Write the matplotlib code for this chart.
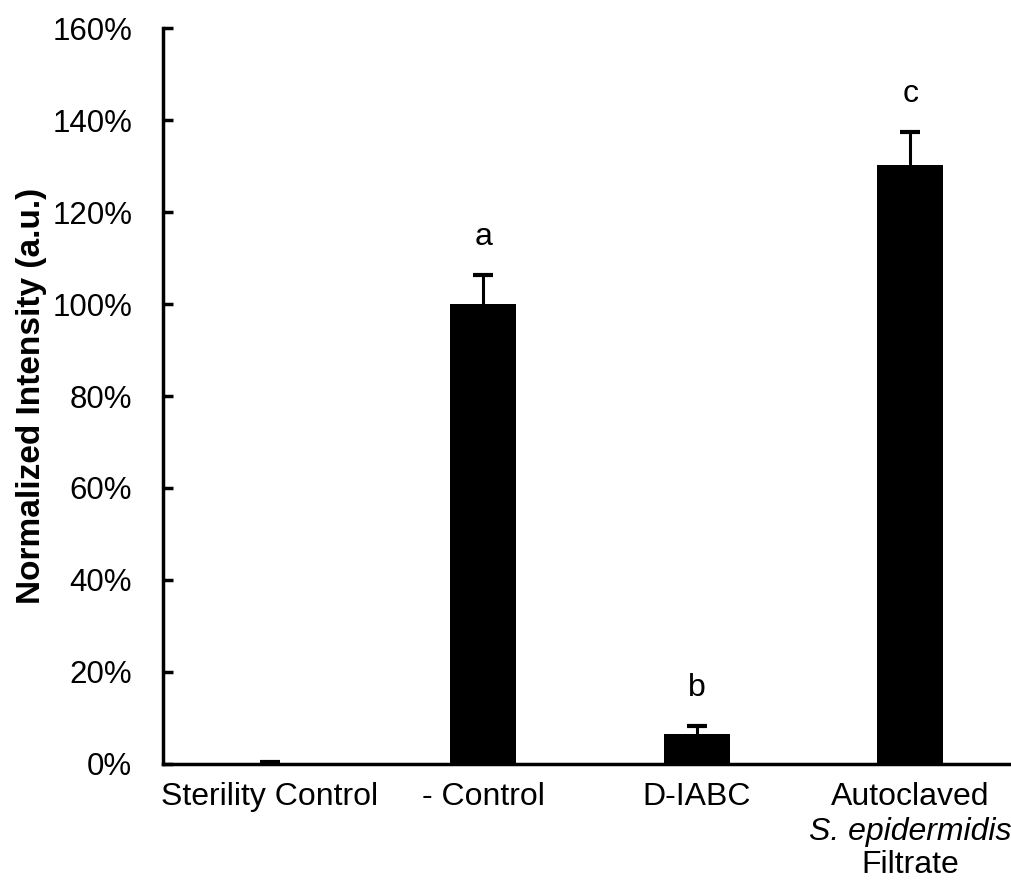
import matplotlib
matplotlib.use("Agg")
import matplotlib.pyplot as plt
from matplotlib.ticker import PercentFormatter

plt.rcParams['font.family'] = ['Liberation Sans', 'DejaVu Sans']

# Normalized intensity per treatment (%), upper error and significance letters
groups = ["Sterility Control", "- Control", "D-IABC", ""]
intensity = [0.0, 100.0, 6.5, 130.2]
error = [0.4, 6.3, 1.7, 7.2]
letters = ["", "a", "b", "c"]

fig = plt.figure(figsize=(10.11, 8.8), dpi=100)
ax = fig.add_axes([0.161, 0.132, 0.845, 0.836])

x = range(len(groups))
ax.bar(x, intensity, width=0.31, color="black")
eb = ax.errorbar(x, intensity, yerr=[[0] * len(error), error], fmt="none",
                 ecolor="black", elinewidth=2.2, capsize=7.5, capthick=3)
# only the upper cap is wanted
eb[1][0].set_visible(False)

for i, (v, e, l) in enumerate(zip(intensity, error, letters)):
    if l:
        ax.text(i, v + e + 8.3, l, ha="center", va="center", fontsize=23)

ax.set_xlim(-0.5, 3.5)
ax.set_ylim(0, 160)
ax.set_yticks(range(0, 161, 20))
ax.yaxis.set_major_formatter(PercentFormatter(decimals=0))
ax.set_xticks(list(x))
ax.set_xticklabels(groups)

# multi-line label with italic species name
lbl = ax.get_xaxis_transform()
ax.text(3, -0.045, "Autoclaved", transform=lbl, ha="center", va="center", fontsize=23)
ax.text(3, -0.092, "S. epidermidis", transform=lbl, ha="center", va="center",
        fontsize=23, style="italic")
ax.text(3, -0.138, "Filtrate", transform=lbl, ha="center", va="center", fontsize=23)

ax.tick_params(axis="y", direction="in", length=7, width=2.5, labelsize=22.5, pad=22)
ax.tick_params(axis="x", length=0, labelsize=23, pad=13)
for s in ["top", "right"]:
    ax.spines[s].set_visible(False)
for s in ["left", "bottom"]:
    ax.spines[s].set_linewidth(2.5)

ax.set_ylabel("Normalized Intensity (a.u.)", fontsize=24, fontweight="bold", labelpad=4)

fig.savefig("out.png", dpi=100)
